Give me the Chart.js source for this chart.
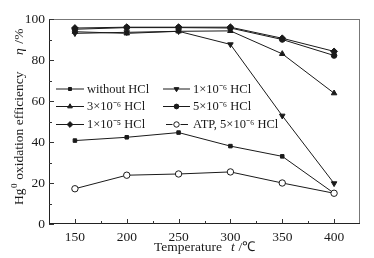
<!DOCTYPE html>
<html><head><meta charset="utf-8">
<script src="https://cdn.jsdelivr.net/npm/chart.js@4/dist/chart.umd.min.js"></script>
<style>html,body{margin:0;padding:0;background:#fff}#wrap{width:374px;height:258px}</style>
</head><body><div id="wrap"><canvas id="c" width="374" height="258"></canvas></div>
<script>
const temperatures = [150, 200, 250, 300, 350, 400];
const withoutHCl = [40.7, 42.3, 44.6, 38.0, 33.0, 15.0];
const hcl1e6 = [93.0, 93.5, 94.0, 87.6, 52.8, 19.8];
const hcl3e6 = [93.8, 93.0, 94.0, 94.2, 83.0, 63.8];
const hcl5e6 = [95.0, 95.8, 95.8, 95.6, 90.0, 82.2];
const hcl1e5 = [95.6, 96.0, 96.0, 96.0, 90.6, 84.2];
const atp5e6 = [17.2, 23.8, 24.4, 25.4, 20.0, 15.0];
const xTicks = [150, 200, 250, 300, 350, 400];
const yTicks = [0, 20, 40, 60, 80, 100];
const seriesLabels = ['without HCl', '1×10⁻⁶ HCl', '3×10⁻⁶ HCl', '5×10⁻⁶ HCl', '1×10⁻⁵ HCl', 'ATP, 5×10⁻⁶ HCl'];

const SERIF = '"Liberation Serif", "Times New Roman", serif';
const INK = '#1a1a1a';

function mk(label, data, style, rot, fill, r, order) {
  return {
    label, data: temperatures.map((t, i) => ({x: t, y: data[i]})),
    borderColor: INK, borderWidth: 1, pointStyle: style, pointRotation: rot || 0,
    pointRadius: r, pointHoverRadius: r, order: order,
    pointBackgroundColor: fill ? INK : '#fff', pointBorderColor: INK, pointBorderWidth: 1,
    tension: 0, fill: false
  };
}
const datasets = [
  mk(seriesLabels[0], withoutHCl, 'rect', 0, true, 2.5, 1),
  mk(seriesLabels[1], hcl1e6, 'triangle', 180, true, 3.2, 2),
  mk(seriesLabels[2], hcl3e6, 'triangle', 0, true, 3.2, 3),
  mk(seriesLabels[3], hcl5e6, 'circle', 0, true, 2.8, 4),
  mk(seriesLabels[4], hcl1e5, 'rectRot', 0, true, 3.4, 5),
  mk(seriesLabels[5], atp5e6, 'circle', 0, false, 3.2, 0),
];

const decor = {
  id: 'decor',
  afterDraw(chart) {
    const {ctx, chartArea: a, scales} = chart;
    const xs = scales.x, ys = scales.y;
    ctx.save();
    ctx.strokeStyle = '#777'; ctx.lineWidth = 1;
    ctx.strokeRect(a.left + 0.5, a.top + 0.5, a.right - a.left - 1, a.bottom - a.top - 1);
    ctx.strokeStyle = '#222';
    ctx.beginPath();
    ctx.moveTo(a.left + 0.5, a.top); ctx.lineTo(a.left + 0.5, a.bottom);
    ctx.moveTo(a.left, a.bottom - 0.5); ctx.lineTo(a.right, a.bottom - 0.5);
    ctx.stroke();
    ctx.strokeStyle = '#333';
    ctx.beginPath();
    for (let v = 150; v <= 400; v += 25) {
      const px = Math.round(xs.getPixelForValue(v)) + 0.5;
      const len = (v % 50 === 0) ? 5 : 3;
      ctx.moveTo(px, a.bottom); ctx.lineTo(px, a.bottom - len);
    }
    for (let v = 0; v <= 100; v += 10) {
      const py = Math.round(ys.getPixelForValue(v)) + 0.5;
      const len = (v % 20 === 0) ? 5 : 3;
      ctx.moveTo(a.left, py); ctx.lineTo(a.left + len, py);
    }
    ctx.stroke();

    // legend
    const cols = [{x0: 56, x1: 84, tx: 87}, {x0: 163, x1: 190, tx: 193}];
    const rows = [88.5, 106, 124];
    chart.data.datasets.forEach((ds, i) => {
      const c = cols[i % 2], y = rows[Math.floor(i / 2)];
      const mx = (c.x0 + c.x1) / 2;
      ctx.strokeStyle = INK; ctx.lineWidth = 1;
      ctx.beginPath();
      if (ds.pointBackgroundColor === '#fff') {
        ctx.moveTo(c.x0 + 3, y + 0.5); ctx.lineTo(mx - 4, y + 0.5);
        ctx.moveTo(mx + 4, y + 0.5); ctx.lineTo(c.x1 - 2, y + 0.5);
      } else {
        ctx.moveTo(c.x0, y + 0.5); ctx.lineTo(c.x1, y + 0.5);
      }
      ctx.stroke();
      ctx.fillStyle = ds.pointBackgroundColor; ctx.strokeStyle = INK; ctx.lineWidth = 1;
      Chart.helpers.drawPoint(ctx, {
        pointStyle: ds.pointStyle, rotation: ds.pointRotation, radius: ds.pointRadius * 0.85,
        borderWidth: 1
      }, mx, y + 0.5);
      ctx.font = '12.5px ' + SERIF; ctx.fillStyle = INK;
      ctx.textBaseline = 'middle'; ctx.textAlign = 'left';
      ctx.fillText(ds.label, c.tx, y + 1);
    });

    // x title
    ctx.fillStyle = INK; ctx.textBaseline = 'alphabetic'; ctx.textAlign = 'left';
    ctx.font = '13.5px ' + SERIF;
    ctx.fillText('Temperature', 154, 251);
    ctx.font = 'italic 13.5px ' + SERIF;
    ctx.fillText('t', 231, 251);
    ctx.font = '13.5px ' + SERIF;
    ctx.fillText(' /℃', 235, 251);

    // y title (rotated)
    ctx.save();
    ctx.translate(23, 205);
    ctx.rotate(-Math.PI / 2);
    ctx.font = '13.5px ' + SERIF;
    let x = 0;
    ctx.fillText('Hg', x, 0); x += ctx.measureText('Hg').width;
    ctx.font = '9px ' + SERIF;
    ctx.fillText('0', x + 0.5, -6); x += ctx.measureText('0').width + 1;
    ctx.font = '13.5px ' + SERIF;
    ctx.fillText(' oxidation efficiency', x, 0);
    ctx.font = 'italic 13.5px ' + SERIF;
    ctx.fillText('η', 150, 0);
    ctx.font = '13.5px ' + SERIF;
    ctx.fillText(' /%', 158, 0);
    ctx.restore();
    ctx.restore();
  }
};

new Chart(document.getElementById('c'), {
  type: 'line',
  data: {datasets},
  plugins: [decor],
  options: {
    responsive: false, animation: false, devicePixelRatio: 1,
    layout: {padding: {top: 19, right: 14, left: 0, bottom: 0}},
    plugins: {legend: {display: false}, tooltip: {enabled: false}},
    scales: {
      x: {
        type: 'linear', min: 125, max: 425,
        afterBuildTicks: s => { s.ticks = xTicks.map(v => ({value: v})); },
        afterFit: s => { s.height = 34; },
        grid: {display: false, drawTicks: false}, border: {display: false},
        ticks: {color: INK, padding: 5, font: {family: SERIF, size: 13.5}, maxRotation: 0}
      },
      y: {
        min: 0, max: 100,
        afterBuildTicks: s => { s.ticks = yTicks.map(v => ({value: v})); },
        afterFit: s => { s.width = 49; },
        grid: {display: false, drawTicks: false}, border: {display: false},
        ticks: {color: INK, padding: 4, font: {family: SERIF, size: 13.5}}
      }
    }
  }
});
</script></body></html>
